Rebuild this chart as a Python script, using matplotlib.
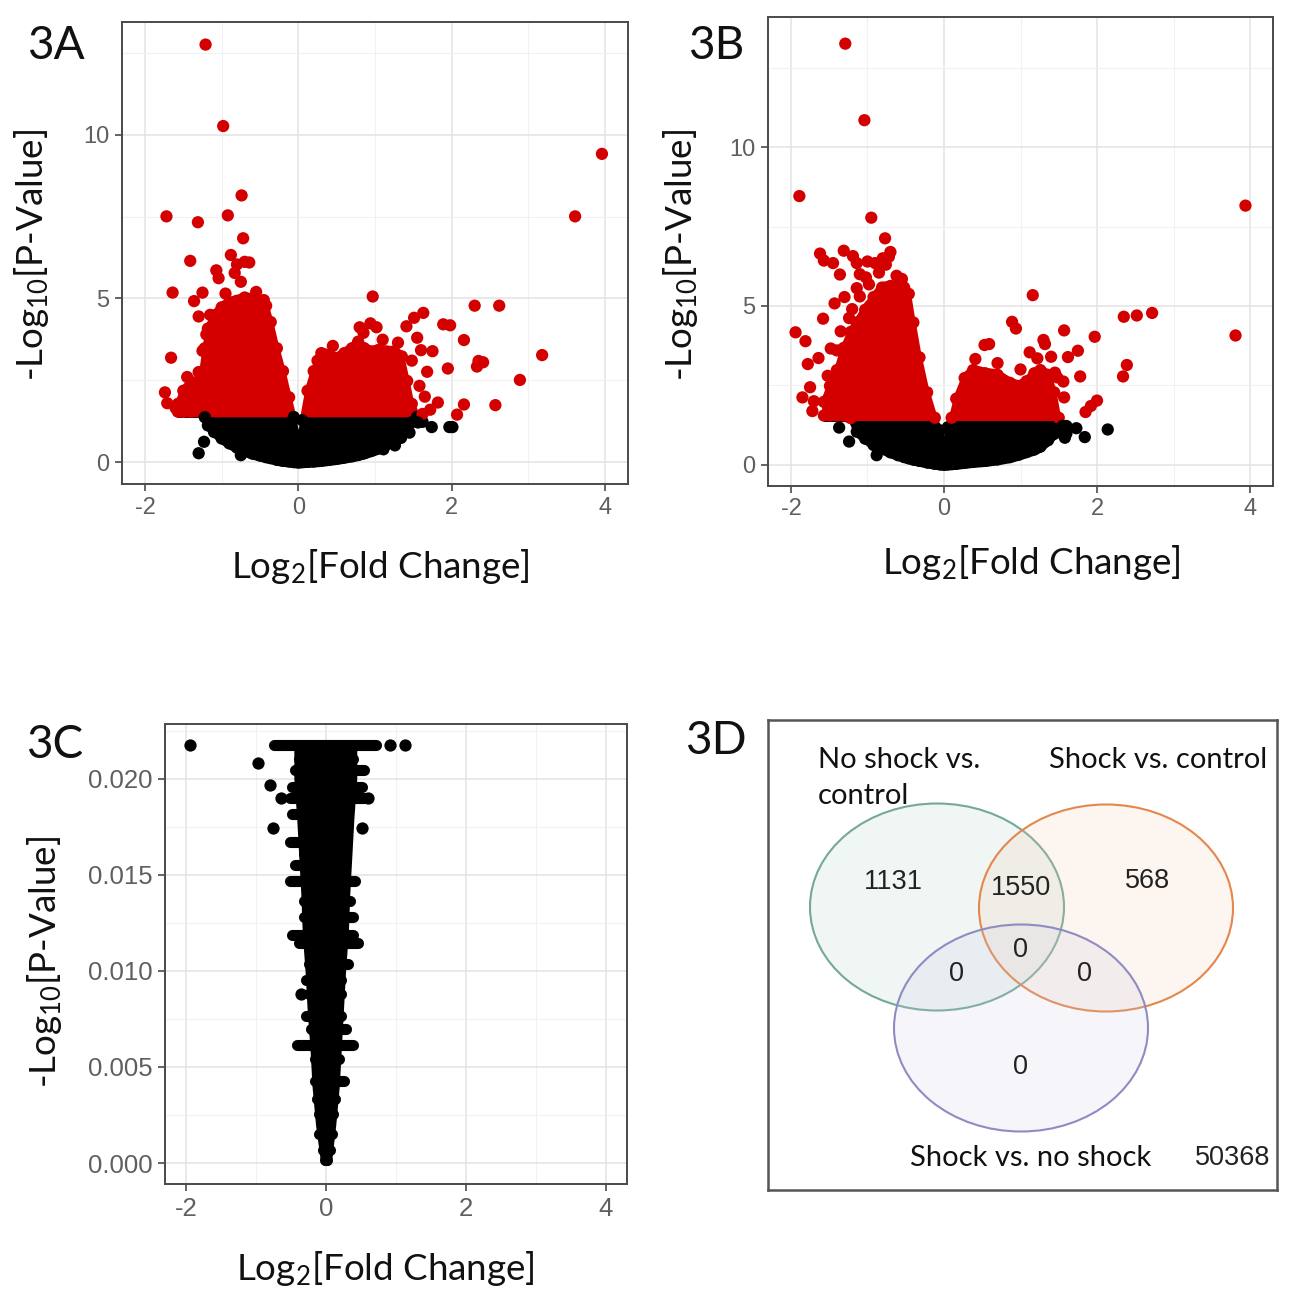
import matplotlib
matplotlib.use('Agg')
import matplotlib.pyplot as plt
import numpy as np
from matplotlib.patches import Ellipse
from matplotlib.ticker import MultipleLocator

plt.rcParams['mathtext.fontset'] = 'custom'
plt.rcParams['mathtext.rm'] = 'Lato'
plt.rcParams['mathtext.it'] = 'Lato'
plt.rcParams['axes.unicode_minus'] = False

RED = '#d40000'
W, H = 1290, 1298

# ---- 3A: dense cloud outline (upper / lower edge) and scattered genes ----
a_thr = 1.42
a_env_x = [-1.57, -1.50, -1.40, -1.28, -1.22, -1.18, -1.10, -1.00, -0.90, -0.80, -0.70, -0.60, -0.50,
           -0.42, -0.36, -0.28, -0.20, -0.12, -0.06, 0.00, 0.05, 0.12, 0.20, 0.30, 0.40, 0.50, 0.60,
           0.70, 0.78, 0.86, 0.95, 1.05, 1.15, 1.25, 1.35, 1.42, 1.48, 1.55, 1.62]
a_env_hi = [1.9, 2.3, 2.55, 2.6, 3.6, 4.2, 4.6, 4.85, 5.0, 5.05, 5.15, 5.1, 5.0,
            4.9, 4.4, 3.6, 2.9, 2.1, 1.5, 0.7, 1.4, 2.3, 2.9, 3.45, 3.4, 3.3, 3.45,
            3.6, 3.8, 3.6, 3.5, 3.55, 3.5, 3.5, 3.35, 2.6, 1.9, 1.5, 1.35]
a_env_lo = [1.42, 1.42, 1.42, 1.42, 1.25, 1.0, 0.8, 0.6, 0.45, 0.32, 0.22, 0.14, 0.08,
            0.03, 0.0, -0.05, -0.08, -0.1, -0.12, -0.13, -0.12, -0.11, -0.1, -0.08, -0.05, -0.02, 0.02,
            0.06, 0.1, 0.15, 0.22, 0.3, 0.42, 0.6, 0.8, 0.95, 1.1, 1.25, 1.35]
a_x = [-1.21, -0.98, 3.96, -0.74, -1.72, -1.31, -0.92, 3.61, -0.72, -1.41, -0.88, -0.70, -0.80, -0.64,
       -1.07, -1.04, -0.83, -0.75, -1.64, -1.25, -1.36, -1.30, -1.66, -1.74, -1.71, -1.45, -1.30,
       0.97, 2.30, 2.62, 3.18, 2.89, 2.57, 2.16, 2.35, 2.41, 2.33, 1.95, 1.82, 2.16, 2.07, 1.89, 1.98,
       1.63, 1.51, 1.41, 1.55, 1.60, 1.75, 1.68, 1.58, 1.10, 0.80, 0.94, 1.02, 1.65, 1.72,
       1.74, 1.56, 1.97, 2.01, 1.34, 1.26, 1.11, -1.30, -1.23, -0.75, 1.45,
       -1.20, -1.15, -1.25, -0.95, -0.55, -0.45, -1.52, -1.60, -1.35, 0.25, 0.45, 0.85, 1.30, 1.48]
a_y = [12.76, 10.27, 9.42, 8.15, 7.51, 7.33, 7.54, 7.51, 6.84, 6.15, 6.33, 6.12, 6.04, 6.10,
       5.86, 5.62, 5.78, 5.51, 5.18, 5.18, 4.92, 4.45, 3.19, 2.13, 1.80, 2.60, 2.75,
       5.06, 4.78, 4.78, 3.27, 2.51, 1.74, 3.73, 3.09, 3.05, 2.92, 2.86, 1.82, 1.76, 1.45, 4.21, 4.18,
       4.56, 4.41, 4.15, 3.80, 3.42, 3.39, 2.76, 2.33, 3.74, 4.12, 4.24, 4.12, 2.00, 1.60,
       1.07, 1.21, 1.07, 1.07, 0.74, 0.51, 0.39, 0.27, 0.62, 0.21, 0.90,
       3.90, 4.50, 3.40, 5.15, 5.20, 4.95, 1.55, 1.65, 2.30, 3.10, 3.55, 3.95, 3.65, 3.10]

# ---- 3B ----
b_thr = 1.43
b_env_x = [-1.57, -1.49, -1.40, -1.31, -1.22, -1.14, -1.03, -0.92, -0.81, -0.70, -0.60, -0.52, -0.46,
           -0.40, -0.32, -0.22, -0.12, -0.05, 0.00, 0.05, 0.10, 0.16, 0.27, 0.38, 0.54, 0.70, 0.86,
           0.98, 1.08, 1.18, 1.26, 1.36, 1.44, 1.50, 1.55, 1.60]
b_env_hi = [2.1, 2.6, 3.1, 3.8, 4.3, 4.6, 5.0, 5.4, 5.7, 5.75, 5.75, 5.7, 5.5,
            4.6, 3.5, 2.4, 1.6, 1.2, 0.65, 1.3, 1.6, 2.2, 2.85, 3.1, 3.0, 2.95, 2.7,
            2.6, 2.75, 3.0, 3.1, 2.95, 2.4, 1.6, 1.3, 1.1]
b_env_lo = [1.43, 1.43, 1.43, 1.43, 1.35, 0.92, 0.7, 0.5, 0.38, 0.27, 0.18, 0.12, 0.08,
            0.04, 0.0, -0.05, -0.09, -0.11, -0.12, -0.11, -0.1, -0.09, -0.06, -0.03, 0.0, 0.05, 0.12,
            0.2, 0.28, 0.36, 0.45, 0.65, 0.85, 1.0, 1.1, 1.1]
b_x = [-1.29, -1.04, -1.89, 3.94, -0.95, -0.77, 3.81, 1.16, 2.35, 2.52, 2.72, 2.39, 2.34, 1.97, 1.57,
       0.89, 0.94, 0.53, 0.59, 0.41, 1.12, 1.30, 1.32, 1.75, 1.62, 1.78, 1.56, 1.57, 2.00, 1.92, 1.85,
       1.45, 1.40,
       -1.94, -1.81, -1.78, -1.75, -1.85, -1.72, -1.70, -1.62, -1.57, -1.45, -1.36, -1.31, -1.19, -1.14,
       -1.00, -0.90, -0.80, -0.76, -0.70, -0.72, -1.43, -1.30, -1.58, -1.24, -1.48, -1.64, -1.14, -0.98,
       -0.97, -1.10, -1.02,
       2.14, 1.73, 1.84, 1.58, -1.37, -1.24, -0.88,
       -1.52, -1.40, -1.35, -1.20, -1.10, -0.62, -0.55, -0.85, 0.70, 1.00, 1.22, 1.48]
b_y = [13.26, 10.85, 8.46, 8.16, 7.78, 7.13, 4.07, 5.34, 4.66, 4.70, 4.78, 3.14, 2.78, 4.03, 4.23,
       4.50, 4.29, 3.77, 3.80, 3.33, 3.54, 3.93, 3.80, 3.59, 3.39, 2.78, 2.62, 2.12, 2.02, 1.85, 1.66,
       2.90, 3.40,
       4.17, 3.89, 3.17, 2.44, 2.12, 1.69, 2.00, 6.65, 6.43, 6.35, 5.99, 6.74, 6.57, 6.35,
       6.40, 6.35, 6.50, 6.30, 6.70, 6.55, 5.08, 5.28, 4.60, 4.62, 3.66, 3.36, 5.56, 5.68,
       5.00, 6.00, 5.90,
       1.11, 1.15, 0.87, 0.85, 1.17, 0.73, 0.30,
       2.80, 3.60, 4.20, 4.90, 5.30, 5.95, 5.85, 6.05, 3.20, 3.00, 3.35, 2.75]

# ---- 3C: rows of genes sharing a p-value, column core, stray genes ----
c_row_y = [0.02175, 0.02103, 0.02045, 0.01955, 0.01897, 0.01815, 0.01671, 0.01609, 0.01548, 0.01466,
           0.01363, 0.01281, 0.01188, 0.01147, 0.01034, 0.00952, 0.00880, 0.00767, 0.00695, 0.00613,
           0.00541, 0.00428, 0.00335, 0.00253, 0.00150, 0.00068, 0.00016]
c_row_lo = [-0.74, -0.39, -0.45, -0.48, -0.51, -0.48, -0.51, -0.31, -0.45, -0.51,
            -0.31, -0.31, -0.48, -0.39, -0.25, -0.28, -0.25, -0.28, -0.22, -0.42,
            -0.16, -0.16, -0.13, -0.10, -0.10, -0.05, -0.01]
c_row_hi = [0.71, 0.39, 0.54, 0.51, 0.57, 0.28, 0.22, 0.22, 0.10, 0.42,
            0.34, 0.39, 0.39, 0.45, 0.31, 0.22, 0.22, 0.22, 0.28, 0.39,
            0.19, 0.25, 0.13, 0.10, 0.08, 0.05, 0.01]
c_core_y = [0.0001, 0.002, 0.004, 0.006, 0.008, 0.010, 0.012, 0.014, 0.016, 0.018, 0.020, 0.0215]
c_core_lo = [-0.02, -0.09, -0.14, -0.17, -0.21, -0.24, -0.28, -0.30, -0.33, -0.36, -0.40, -0.40]
c_core_hi = [0.02, 0.08, 0.13, 0.16, 0.19, 0.22, 0.26, 0.28, 0.31, 0.34, 0.38, 0.38]
c_x = [-1.95, 0.92, 1.13, -0.97, -0.80, -0.64, -0.76, 0.52, -0.36, 0.60]
c_y = [0.02175, 0.02175, 0.02175, 0.02082, 0.01969, 0.01897, 0.01743, 0.01743, 0.00880, 0.01897]

# ---- 3D: Venn counts ----
venn_sets = ['No shock vs.\ncontrol', 'Shock vs. control', 'Shock vs. no shock']
venn_counts = {'A': 1131, 'AB': 1550, 'B': 568, 'ABC': 0, 'AC': 0, 'BC': 0, 'C': 0}
venn_outside = 50368


def fig_axes(left, top, right, bottom):
    return fig.add_axes([left / W, 1 - bottom / H, (right - left) / W, (bottom - top) / H])


def style_axes(ax, ylim, ymaj, ymin_step, labelsize):
    ax.set_xlim(-2.3, 4.3)
    ax.set_ylim(*ylim)
    ax.xaxis.set_major_locator(MultipleLocator(2))
    ax.xaxis.set_minor_locator(MultipleLocator(1))
    ax.yaxis.set_major_locator(MultipleLocator(ymaj))
    ax.yaxis.set_minor_locator(MultipleLocator(ymin_step))
    ax.grid(which='major', color='#e3e3e3', lw=1.1)
    ax.grid(which='minor', color='#f1f1f1', lw=0.8)
    ax.set_axisbelow(True)
    for s in ax.spines.values():
        s.set_color('#4a4a4a')
        s.set_linewidth(1.4)
    ax.tick_params(which='major', length=5, width=1.2, color='#4a4a4a', labelcolor='#5f5f5f',
                   labelsize=labelsize, pad=4)
    ax.tick_params(which='minor', length=0)


def fix_tick_font(ax):
    for lab in ax.get_xticklabels() + ax.get_yticklabels():
        lab.set_fontfamily('Liberation Sans')


def volcano(ax, ex, ehi, elo, px, py, thr):
    ex, ehi, elo = np.array(ex), np.array(ehi), np.array(elo)
    top_black = np.minimum(ehi, thr)
    ax.fill_between(ex, elo, top_black, where=top_black >= elo, interpolate=True,
                    color='black', lw=2.5, joinstyle='round', zorder=2)
    ax.fill_between(ex, thr, ehi, where=ehi > thr, interpolate=True,
                    color=RED, lw=2.5, joinstyle='round', zorder=2)
    # genes sitting on the rim of the cloud give it its bumpy edge
    rim_y = np.concatenate([ehi - 0.12, elo + 0.12])
    rim_x = np.concatenate([ex, ex])
    ax.scatter(rim_x, rim_y, s=78, c=np.where(rim_y > thr, RED, 'black'), linewidths=0, zorder=2.5)
    py = np.array(py)
    ax.scatter(px, py, s=78, c=np.where(py > thr, RED, 'black'), linewidths=0, zorder=3)


def label(x, y, text, size, rot=0, family='Lato', color='#111111'):
    fig.text(x / W, 1 - y / H, text, fontsize=size, rotation=rot, ha='center', va='center',
             family=family, color=color)


fig = plt.figure(figsize=(W / 100, H / 100), dpi=100)

xlab = r'$\mathregular{Log_{2}}$[Fold Change]'
ylab = r'-$\mathregular{Log_{10}}$[P-Value]'

# 3A
ax_a = fig_axes(122, 22, 628, 484)
style_axes(ax_a, (-0.67, 13.45), 5, 2.5, 17)
volcano(ax_a, a_env_x, a_env_hi, a_env_lo, a_x, a_y, a_thr)
fix_tick_font(ax_a)
label(380, 566, xlab, 26.5)
label(32, 255, ylab, 26.5, rot=90)
label(56, 46, '3A', 33)

# 3B
ax_b = fig_axes(768, 17, 1273, 486)
style_axes(ax_b, (-0.67, 14.1), 5, 2.5, 17)
volcano(ax_b, b_env_x, b_env_hi, b_env_lo, b_x, b_y, b_thr)
fix_tick_font(ax_b)
label(1031, 563, xlab, 26.5)
label(680, 255, ylab, 26.5, rot=90)
label(716, 46, '3B', 33)

# 3C
ax_c = fig_axes(165, 724, 627, 1184)
style_axes(ax_c, (-0.00109, 0.02284), 0.005, 0.0025, 18.5)
ax_c.yaxis.set_major_formatter(plt.FuncFormatter(lambda v, p: '%.3f' % v))
ax_c.fill_betweenx(c_core_y, c_core_lo, c_core_hi, color='black', lw=6, joinstyle='round', zorder=2)
rows = ax_c.hlines(c_row_y, c_row_lo, c_row_hi, colors='black', lw=8, zorder=2)
rows.set_capstyle('round')
ax_c.scatter(c_x, c_y, s=78, c='black', linewidths=0, zorder=3)
fig.canvas.draw()
fix_tick_font(ax_c)
label(385, 1268, xlab, 26.5)
label(45, 962, ylab, 26.5, rot=90)
label(55, 745, '3C', 33)

# 3D Venn
ax_d = fig_axes(768, 720, 1277, 1190)
ax_d.set_xlim(0, 509)
ax_d.set_ylim(470, 0)
ax_d.set_xticks([])
ax_d.set_yticks([])
for s in ax_d.spines.values():
    s.set_color('#555555')
    s.set_linewidth(1.8)
circles = [((169, 187), '#a8d0c3', '#74a898'),
           ((338, 188), '#f7c9a8', '#e4874c'),
           ((253, 308), '#cbc8e8', '#8f8bc3')]
for (cx, cy), fc, ec in circles:
    ax_d.add_patch(Ellipse((cx, cy), 254, 207, facecolor=fc, alpha=0.18, edgecolor='none'))
    ax_d.add_patch(Ellipse((cx, cy), 254, 207, facecolor='none', edgecolor=ec, lw=1.5))
first, second = venn_sets[0].split('\n')
ax_d.text(50, 40, first, fontsize=21, family='Lato', va='center', ha='left', color='#111111')
ax_d.text(50, 76, second, fontsize=21, family='Lato', va='center', ha='left', color='#111111')
ax_d.text(281, 40, venn_sets[1], fontsize=21, family='Lato', va='center', ha='left', color='#111111')
ax_d.text(142, 438, venn_sets[2], fontsize=21, family='Lato', va='center', ha='left', color='#111111')
ax_d.text(502, 438, str(venn_outside), fontsize=19.5, family='Liberation Sans', va='center', ha='right',
          color='#222222')
region_pos = {'A': (125, 162), 'AB': (253, 168), 'B': (380, 161), 'ABC': (253, 230),
              'AC': (188, 254), 'BC': (317, 254), 'C': (253, 347)}
for key, (tx, ty) in region_pos.items():
    ax_d.text(tx, ty, str(venn_counts[key]), fontsize=19.5, family='Liberation Sans',
              ha='center', va='center', color='#222222')
label(716, 741, '3D', 33)

fig.savefig('out.png', dpi=100, facecolor='white')
